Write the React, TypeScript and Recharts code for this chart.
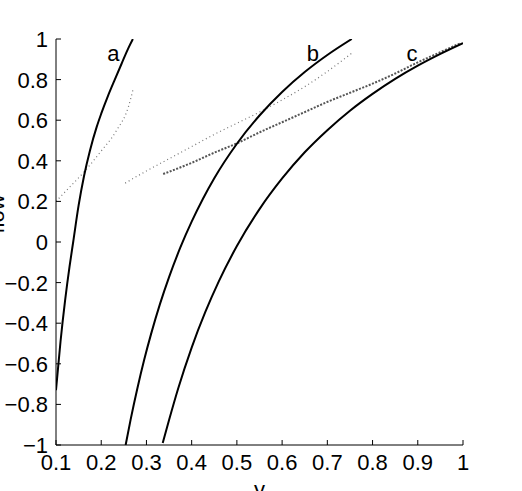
import React from "react";
import { LineChart, Line, XAxis, YAxis, ReferenceDot } from "recharts";

// solid curves
const aSolidX = [0.1, 0.11, 0.12, 0.13, 0.138, 0.15, 0.162, 0.175, 0.19, 0.2, 0.215, 0.23, 0.245, 0.26, 0.27];
const aSolidY = [-0.73, -0.49, -0.29, -0.12, 0.0, 0.18, 0.325, 0.45, 0.567, 0.632, 0.72, 0.8, 0.878, 0.955, 1.0];

const bSolidX = [0.254, 0.265, 0.28, 0.295, 0.31, 0.33, 0.35, 0.375, 0.4, 0.425, 0.45, 0.5, 0.55, 0.6, 0.65, 0.7, 0.754];
const bSolidY = [-1.0, -0.875, -0.72, -0.58, -0.455, -0.305, -0.173, -0.027, 0.1, 0.213, 0.314, 0.484, 0.623, 0.739, 0.837, 0.921, 1.0];

const cSolidX = [0.336, 0.35, 0.37, 0.4, 0.43, 0.46, 0.5, 0.55, 0.6, 0.65, 0.7, 0.75, 0.8, 0.85, 0.9, 0.95, 1.0];
const cSolidY = [-0.99, -0.877, -0.723, -0.52, -0.346, -0.194, -0.02, 0.162, 0.313, 0.442, 0.551, 0.647, 0.73, 0.804, 0.869, 0.927, 0.98];

// dotted curves
const aDotX = [0.1, 0.13, 0.16, 0.197, 0.234, 0.26, 0.271];
const aDotY = [0.2, 0.27, 0.34, 0.44, 0.55, 0.665, 0.757];

const bDotX = [0.253, 0.3, 0.35, 0.4, 0.45, 0.5, 0.55, 0.6, 0.65, 0.7, 0.754];
const bDotY = [0.29, 0.35, 0.41, 0.47, 0.53, 0.585, 0.64, 0.7, 0.765, 0.84, 0.93];

const cDotX = [0.337, 0.4, 0.45, 0.5, 0.55, 0.6, 0.65, 0.7, 0.75, 0.8, 0.85, 0.9, 0.95, 0.995];
const cDotY = [0.335, 0.39, 0.44, 0.486, 0.54, 0.59, 0.64, 0.69, 0.735, 0.78, 0.83, 0.885, 0.935, 0.98];

const xTicks = [0.1, 0.2, 0.3, 0.4, 0.5, 0.6, 0.7, 0.8, 0.9, 1];
const yTicks = [-1, -0.8, -0.6, -0.4, -0.2, 0, 0.2, 0.4, 0.6, 0.8, 1];

const curveLabels = [
  { name: "a", x: 0.227, y: 0.93 },
  { name: "b", x: 0.668, y: 0.93 },
  { name: "c", x: 0.887, y: 0.93 },
];

const zip = (xs: number[], ys: number[]) => xs.map((x, i) => ({ x, y: ys[i] }));

const FONT = 22;

function fmt(v: number) {
  if (v === 0) return "0";
  if (Math.abs(v) === 1) return v < 0 ? "\u22121" : "1";
  const s = Math.abs(v).toFixed(1);
  return v < 0 ? "\u2212" + s : s;
}

const BottomTick = ({ x, y, payload }: any) => (
  <g>
    <line x1={x} x2={x} y1={y} y2={y - 5} stroke="#000" />
    <text x={x} y={y + 25} textAnchor="middle" fontSize={FONT} fill="#000">
      {fmt(payload.value)}
    </text>
  </g>
);

const LeftTick = ({ x, y, payload }: any) => (
  <g>
    <line x1={x} x2={x + 5} y1={y} y2={y} stroke="#000" />
    <text x={x - 8} y={y + 8} textAnchor="end" fontSize={FONT} fill="#000">
      {fmt(payload.value)}
    </text>
  </g>
);

const TopTick = ({ x, y }: any) => <line x1={x} x2={x} y1={y} y2={y + 5} stroke="#000" />;
const RightTick = ({ x, y }: any) => <line x1={x} x2={x - 5} y1={y} y2={y} stroke="#000" />;

export default function App() {
  return (
    <div style={{ position: "absolute", left: 0, top: 0 }}>
      <LineChart
        width={522}
        height={491}
        margin={{ top: 39, right: 59, bottom: 0, left: 0 }}
        style={{ fontFamily: "'Liberation Sans', Arial, sans-serif" }}
      >
        <XAxis
          dataKey="x"
          type="number"
          domain={[0.1, 1]}
          ticks={xTicks}
          interval={0}
          allowDataOverflow
          height={46}
          tickSize={0}
          tickMargin={0}
          tickLine={false}
          axisLine={{ stroke: "#000" }}
          tick={<BottomTick />}
          label={() => (
            <text x={259.5} y={497} textAnchor="middle" fontSize={FONT} fill="#000">
              y
            </text>
          )}
        />
        <XAxis
          xAxisId="top"
          orientation="top"
          dataKey="x"
          type="number"
          domain={[0.1, 1]}
          ticks={xTicks}
          interval={0}
          height={0}
          tickSize={0}
          tickMargin={0}
          tickLine={false}
          axisLine={{ stroke: "#000" }}
          tick={<TopTick />}
        />
        <YAxis
          type="number"
          domain={[-1, 1]}
          ticks={yTicks}
          interval={0}
          allowDataOverflow
          width={56}
          tickSize={0}
          tickMargin={0}
          tickLine={false}
          axisLine={{ stroke: "#000" }}
          tick={<LeftTick />}
          label={() => (
            <text
              transform="translate(4,214) rotate(-90)"
              textAnchor="middle"
              fontSize={FONT}
              fill="#000"
            >
              flow
            </text>
          )}
        />
        <YAxis
          yAxisId="right"
          orientation="right"
          type="number"
          domain={[-1, 1]}
          ticks={yTicks}
          interval={0}
          width={0}
          tickSize={0}
          tickMargin={0}
          tickLine={false}
          axisLine={{ stroke: "#000" }}
          tick={<RightTick />}
        />

        <Line data={zip(aDotX, aDotY)} dataKey="y" type="monotone" stroke="#777" strokeWidth={1.2} strokeDasharray="1 3" dot={false} activeDot={false} isAnimationActive={false} />
        <Line data={zip(bDotX, bDotY)} dataKey="y" type="monotone" stroke="#777" strokeWidth={1.2} strokeDasharray="1 3" dot={false} activeDot={false} isAnimationActive={false} />
        <Line data={zip(cDotX, cDotY)} dataKey="y" type="monotone" stroke="#555" strokeWidth={2} strokeDasharray="2 1.5" dot={false} activeDot={false} isAnimationActive={false} />

        <Line data={zip(aSolidX, aSolidY)} dataKey="y" type="monotone" stroke="#000" strokeWidth={2} dot={false} activeDot={false} isAnimationActive={false} />
        <Line data={zip(bSolidX, bSolidY)} dataKey="y" type="monotone" stroke="#000" strokeWidth={2} dot={false} activeDot={false} isAnimationActive={false} />
        <Line data={zip(cSolidX, cSolidY)} dataKey="y" type="monotone" stroke="#000" strokeWidth={2} dot={false} activeDot={false} isAnimationActive={false} />

        {curveLabels.map((l) => (
          <ReferenceDot
            key={l.name}
            x={l.x}
            y={l.y}
            r={0}
            fill="none"
            stroke="none"
            ifOverflow="visible"
            label={{ value: l.name, position: "center", fontSize: FONT, fill: "#000" }}
          />
        ))}
      </LineChart>
    </div>
  );
}
